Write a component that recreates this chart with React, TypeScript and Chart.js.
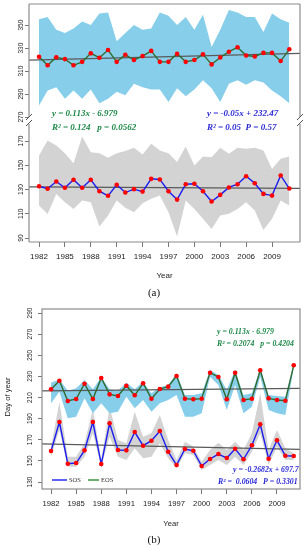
import React, { useEffect, useRef } from "react";
import { Chart, registerables } from "chart.js";
Chart.register(...registerables);

// ---------- data ----------
const years = [1982, 1983, 1984, 1985, 1986, 1987, 1988, 1989, 1990, 1991, 1992, 1993, 1994, 1995, 1996,
  1997, 1998, 1999, 2000, 2001, 2002, 2003, 2004, 2005, 2006, 2007, 2008, 2009, 2010, 2011];
const xTickYears = [1982, 1985, 1988, 1991, 1994, 1997, 2000, 2003, 2006, 2009];

// panel (a), upper part
const aTopMean = [322.4, 315, 322, 320.4, 315, 318, 325.4, 321.6, 328.3, 318, 324.2, 319.6, 323, 327.5, 318,
  318, 325, 318, 319.6, 324.5, 315.8, 321.8, 326.8, 330.6, 323.5, 322.7, 325.8, 325.8, 318.7, 328.9];
const aTopUpper = [355, 357, 346, 343, 347, 353, 350, 360, 361, 336, 343, 350, 346, 347, 361,
  358, 350, 357, 346, 359, 331, 346, 363, 361, 357, 357, 344, 360, 355, 352];
const aTopLower = [280, 293, 296, 286, 293, 286, 294, 282, 286, 292, 289, 299, 296, 294, 294,
  283, 295, 288, 294, 302, 295, 283, 299, 302, 298, 302, 300, 293, 288, 282];
const aTopTrend = [319.5, 325.3];
const aTopTicks = [270, 290, 310, 330, 350];

// panel (a), lower part
const aBotMean = [132.7, 130.6, 136.6, 131.4, 138, 131.4, 138, 128.6, 124.8, 133.9, 127.5, 130.3, 128.3, 138.8, 138.3,
  128.6, 121.7, 134.4, 134.7, 128.6, 120.1, 125.6, 131.7, 134.4, 141, 135.2, 126.4, 125, 141.6, 130.8];
const aBotUpper = [158, 170.5, 166.4, 160, 151.7, 173.8, 160.8, 160, 156.2, 160, 161.7, 164.5, 158.9, 167.8, 162.2,
  160, 152.6, 165.5, 149.8, 157.3, 156.7, 164.5, 159.5, 164.5, 163.6, 164.5, 162.2, 147, 155.4, 157.3];
const aBotLower = [116.8, 109.9, 126.4, 119.5, 114, 120.9, 119.5, 99.4, 108.5, 120.9, 114.9, 111.2, 118.7, 122.3, 125,
  111.2, 91.2, 120.9, 114, 105.8, 97.5, 108.5, 110, 114, 119.5, 112.7, 96.7, 105.8, 120.9, 116.8];
const aBotTrend = [132.2, 131.0];
const aBotTicks = [90, 110, 130, 150, 170];

// panel (b)
const bEOS = [217.8, 225.9, 206.7, 208.6, 223.1, 208.6, 228.5, 213, 211.4, 221.2, 212.1, 223.5, 208.9, 218, 220.3,
  230.4, 208.9, 208.3, 208.9, 233.5, 229.4, 208.3, 233.5, 207.7, 208.9, 235.8, 209.2, 207.7, 207, 240.5];
const bEOSUpper = [224, 227.3, 216.5, 218.7, 226.6, 217.8, 229.1, 217.8, 216.5, 224, 217.8, 225, 214, 219.7, 221.9,
  232.9, 212.4, 212.4, 214, 236, 231.3, 217.1, 236, 212.4, 214, 237.7, 212.4, 211.4, 210.8, 242];
const bEOSLower = [204.5, 215.5, 190.3, 191.8, 209.2, 195.1, 204.5, 195.1, 196.6, 210.8, 199.8, 207.7, 196.6, 204.5, 207.7,
  212.4, 191.8, 191.8, 195.1, 229.7, 221.9, 198.2, 221.9, 195.1, 201.3, 229.7, 198.2, 195.1, 193.4, 237.7];
const bSOS = [159.4, 186.8, 147.3, 148, 160, 186.8, 147, 185.6, 160.3, 160, 177.3, 164.4, 169.1, 178.3, 158.7,
  146.1, 161.3, 159.6, 145.2, 151.8, 156.5, 152.7, 161.5, 151.5, 164.8, 184.6, 152.1, 169.5, 154.9, 154.6];
const bSOSUpper = [163.4, 206, 154, 154, 166.6, 198.8, 150.8, 201.3, 169.8, 166.6, 196.6, 172.9, 176.1, 193.4, 169.8,
  150.8, 168.2, 163.4, 149.2, 160.3, 167.2, 160.3, 168.2, 160.3, 176.1, 214, 160.3, 179.2, 161.9, 157.2];
const bSOSLower = [154, 179.2, 144.5, 144.5, 154, 176.1, 144.5, 172.9, 154, 150.8, 161.9, 152.4, 154, 166.6, 152.4,
  143, 157.2, 155.6, 141.4, 146.1, 150.8, 146.1, 154, 146.1, 158.7, 176.1, 146.1, 163.4, 150.8, 150.8];
const bEOSTrend = [216.2, 218.7];
const bSOSTrend = [166.2, 161.0];
const bTicks = [130, 150, 170, 190, 210, 230, 250, 270, 290];

// ---------- styles ----------
const SANS = '"Liberation Sans", Arial, sans-serif';
const SERIF = '"Liberation Serif", "Times New Roman", serif';
const SKY = "#87ceeb";
const GREYBAND = "#d3d3d3";
const GREEN_LINE = "#2f6b2f";
const BLUE_LINE = "#1c1cf0";
const RED = "#ff0000";
const TREND = "#5a5a5a";
const FRAME = "#8c8c8c";
const EQ_GREEN = "#1e8a4a";
const EQ_BLUE = "#2b2bd6";

const pts = (vals: number[]) => years.map((yr, i) => ({ x: yr, y: vals[i] }));

function bandSets(upper: number[], lower: number[], color: string, axis: string) {
  return [
    { type: "line", data: pts(upper), yAxisID: axis, borderWidth: 0, borderColor: "transparent", pointRadius: 0, fill: "+1", backgroundColor: color, order: 10, tension: 0 },
    { type: "line", data: pts(lower), yAxisID: axis, borderWidth: 0, borderColor: "transparent", pointRadius: 0, fill: false, order: 10, tension: 0 },
  ];
}
function series(vals: number[], color: string, axis: string) {
  return { type: "line", data: pts(vals), yAxisID: axis, borderColor: color, borderWidth: 1.4, pointRadius: 2.3, pointBackgroundColor: RED, pointBorderWidth: 0, fill: false, order: 1, tension: 0 };
}
function trend(vals: number[], xmin: number, xmax: number, axis: string) {
  return { type: "line", data: [{ x: xmin, y: vals[0] }, { x: xmax, y: vals[1] }], yAxisID: axis, borderColor: TREND, borderWidth: 1.2, pointRadius: 0, fill: false, order: 5 };
}

function yAxis(min: number, max: number, ticks: number[], width: number, extra: any = {}) {
  return {
    type: "linear", position: "left", min, max, ...extra,
    afterBuildTicks: (s: any) => { s.ticks = ticks.map((v) => ({ value: v })); },
    afterFit: (s: any) => { s.width = width; },
    ticks: { display: false },
    grid: { drawOnChartArea: false, drawTicks: true, tickLength: 4, color: "#777", lineWidth: 1 },
    border: { display: false },
  };
}
function xAxis(min: number, max: number, height: number, size: number) {
  return {
    type: "linear", position: "bottom", min, max,
    afterBuildTicks: (s: any) => { s.ticks = xTickYears.map((v) => ({ value: v })); },
    afterFit: (s: any) => { s.height = height; },
    ticks: { callback: (v: any) => String(v), font: { family: SANS, size }, color: "#222", padding: 5, maxRotation: 0, minRotation: 0, autoSkip: false },
    grid: { drawOnChartArea: false, drawTicks: true, tickLength: 5, color: "#777", lineWidth: 1 },
    border: { display: false },
  };
}

function drawYLabels(ctx: CanvasRenderingContext2D, scale: any, ticks: number[], cx: number, size: number) {
  ctx.save();
  ctx.fillStyle = "#222";
  ctx.font = `${size}px ${SANS}`;
  ctx.textAlign = "center";
  ctx.textBaseline = "middle";
  for (const v of ticks) {
    const y = scale.getPixelForValue(v);
    ctx.save();
    ctx.translate(cx, y);
    ctx.rotate(-Math.PI / 2);
    ctx.fillText(String(v), 0, 0);
    ctx.restore();
  }
  ctx.restore();
}
function text(ctx: CanvasRenderingContext2D, s: string, x: number, y: number, font: string, color: string, align: CanvasTextAlign = "left") {
  ctx.save();
  ctx.font = font;
  ctx.fillStyle = color;
  ctx.textAlign = align;
  ctx.textBaseline = "middle";
  ctx.fillText(s, x, y);
  ctx.restore();
}
function line(ctx: CanvasRenderingContext2D, x1: number, y1: number, x2: number, y2: number) {
  ctx.beginPath();
  ctx.moveTo(x1, y1);
  ctx.lineTo(x2, y2);
  ctx.stroke();
}

const A_XMIN = 1980.84, A_XMAX = 2012.24;
const B_XMIN = 1980.92, B_XMAX = 2011.75;

function ChartA() {
  const ref = useRef<HTMLCanvasElement>(null);
  useEffect(() => {
    const deco = {
      id: "decoA",
      afterDraw(chart: any) {
        const ctx = chart.ctx as CanvasRenderingContext2D;
        const { left: L, right: R, top: T, bottom: B } = chart.chartArea;
        const yT = chart.scales.yTop, yB = chart.scales.yBot;
        const brk = Math.min(yT.bottom, yB.bottom) === yT.bottom ? yT.bottom : yB.bottom;
        ctx.save();
        ctx.strokeStyle = FRAME;
        ctx.lineWidth = 1.2;
        line(ctx, L, T, R, T);
        line(ctx, L, B, R, B);
        line(ctx, L, T, L, brk - 5);
        line(ctx, L, brk + 2, L, B);
        line(ctx, R, T, R, brk - 5);
        line(ctx, R, brk + 2, R, B);
        ctx.strokeStyle = "#555";
        ctx.lineWidth = 1;
        for (const x of [L, R]) {
          line(ctx, x - 3, brk - 2, x + 3, brk - 8);
          line(ctx, x - 3, brk + 4, x + 3, brk - 2);
        }
        ctx.restore();
        drawYLabels(ctx, yT, aTopTicks, 21.5, 6.6);
        drawYLabels(ctx, yB, aBotTicks, 21.5, 6.6);
        const eq = `bold italic 9px ${SERIF}`;
        text(ctx, "y = 0.113x - 6.979", 52, 114, eq, EQ_GREEN);
        text(ctx, "R² = 0.124   p = 0.0562", 52, 128, eq, EQ_GREEN);
        text(ctx, "y = -0.05x + 232.47", 207, 114, eq, EQ_BLUE);
        text(ctx, "R² = 0.05  P = 0.57", 207, 128, eq, EQ_BLUE);
        text(ctx, "Year", 164.5, 276, `8px ${SANS}`, "#222", "center");
        text(ctx, "(a)", 154, 293, `11px ${SERIF}`, "#111", "center");
      },
    };
    const chart = new Chart(ref.current!, {
      type: "line",
      data: {
        datasets: [
          series(aTopMean, GREEN_LINE, "yTop"),
          series(aBotMean, BLUE_LINE, "yBot"),
          trend(aTopTrend, A_XMIN, A_XMAX, "yTop"),
          trend(aBotTrend, A_XMIN, A_XMAX, "yBot"),
          ...bandSets(aTopUpper, aTopLower, SKY, "yTop"),
          ...bandSets(aBotUpper, aBotLower, GREYBAND, "yBot"),
        ] as any,
      },
      options: {
        responsive: false,
        animation: false,
        events: [],
        layout: { padding: { left: 0, right: 8, top: 4, bottom: 0 } },
        plugins: { legend: { display: false }, tooltip: { enabled: false } },
        scales: {
          x: xAxis(A_XMIN, A_XMAX, 58, 8),
          yBot: yAxis(86.7, 185.7, aBotTicks, 29, { stack: "a", stackWeight: 120 }),
          yTop: yAxis(265.7, 368.3, aTopTicks, 29, { stack: "a", stackWeight: 118 }),
        } as any,
      },
      plugins: [deco],
    });
    return () => chart.destroy();
  }, []);
  return <canvas ref={ref} width={308} height={300} style={{ position: "absolute", left: 0, top: 0, width: 308, height: 300 }} />;
}

function ChartB() {
  const ref = useRef<HTMLCanvasElement>(null);
  useEffect(() => {
    const deco = {
      id: "decoB",
      afterDraw(chart: any) {
        const ctx = chart.ctx as CanvasRenderingContext2D;
        const { left: L, right: R, top: T, bottom: B } = chart.chartArea;
        ctx.save();
        ctx.strokeStyle = FRAME;
        ctx.lineWidth = 1.2;
        ctx.strokeRect(L, T, R - L, B - T);
        ctx.restore();
        drawYLabels(ctx, chart.scales.y, bTicks, 30, 6.5);
        ctx.save();
        ctx.translate(8, 97);
        ctx.rotate(-Math.PI / 2);
        text(ctx, "Day of year", 0, 0, `7.6px ${SANS}`, "#222", "center");
        ctx.restore();
        const eq = `bold italic 7.8px ${SERIF}`;
        text(ctx, "y = 0.113x - 6.979", 217, 32, eq, EQ_GREEN);
        text(ctx, "R² = 0.2074   p = 0.4204", 217, 44, eq, EQ_GREEN);
        text(ctx, "y = -0.2682x + 697.7", 233, 170, eq, EQ_BLUE);
        text(ctx, "R² =  0.0604   P = 0.3301", 218, 182, eq, EQ_BLUE);
        // legend
        ctx.save();
        ctx.lineWidth = 1.4;
        ctx.strokeStyle = BLUE_LINE;
        line(ctx, 52, 180, 67, 180);
        ctx.strokeStyle = "#2e8b2e";
        line(ctx, 88, 180, 99, 180);
        ctx.restore();
        text(ctx, "SOS", 69, 180, `6.5px ${SERIF}`, "#333");
        text(ctx, "EOS", 101, 180, `6.5px ${SERIF}`, "#333");
        text(ctx, "Year", 171, 224, `7.6px ${SANS}`, "#222", "center");
        text(ctx, "(b)", 154, 240, `11px ${SERIF}`, "#111", "center");
      },
    };
    const chart = new Chart(ref.current!, {
      type: "line",
      data: {
        datasets: [
          series(bEOS, GREEN_LINE, "y"),
          series(bSOS, BLUE_LINE, "y"),
          trend(bEOSTrend, B_XMIN, B_XMAX, "y"),
          trend(bSOSTrend, B_XMIN, B_XMAX, "y"),
          ...bandSets(bEOSUpper, bEOSLower, SKY, "y"),
          ...bandSets(bSOSUpper, bSOSLower, GREYBAND, "y"),
        ] as any,
      },
      options: {
        responsive: false,
        animation: false,
        events: [],
        layout: { padding: { left: 0, right: 8, top: 9, bottom: 0 } },
        plugins: { legend: { display: false }, tooltip: { enabled: false } },
        scales: {
          x: xAxis(B_XMIN, B_XMAX, 61, 7.7),
          y: yAxis(123.4, 293.8, bTicks, 42),
        } as any,
      },
      plugins: [deco],
    });
    return () => chart.destroy();
  }, []);
  return <canvas ref={ref} width={308} height={250} style={{ position: "absolute", left: 0, top: 300, width: 308, height: 250 }} />;
}

export default function App() {
  return (
    <div style={{ position: "absolute", left: 0, top: 0, width: 308, height: 550, background: "#fff", overflow: "hidden" }}>
      <ChartA />
      <ChartB />
    </div>
  );
}
